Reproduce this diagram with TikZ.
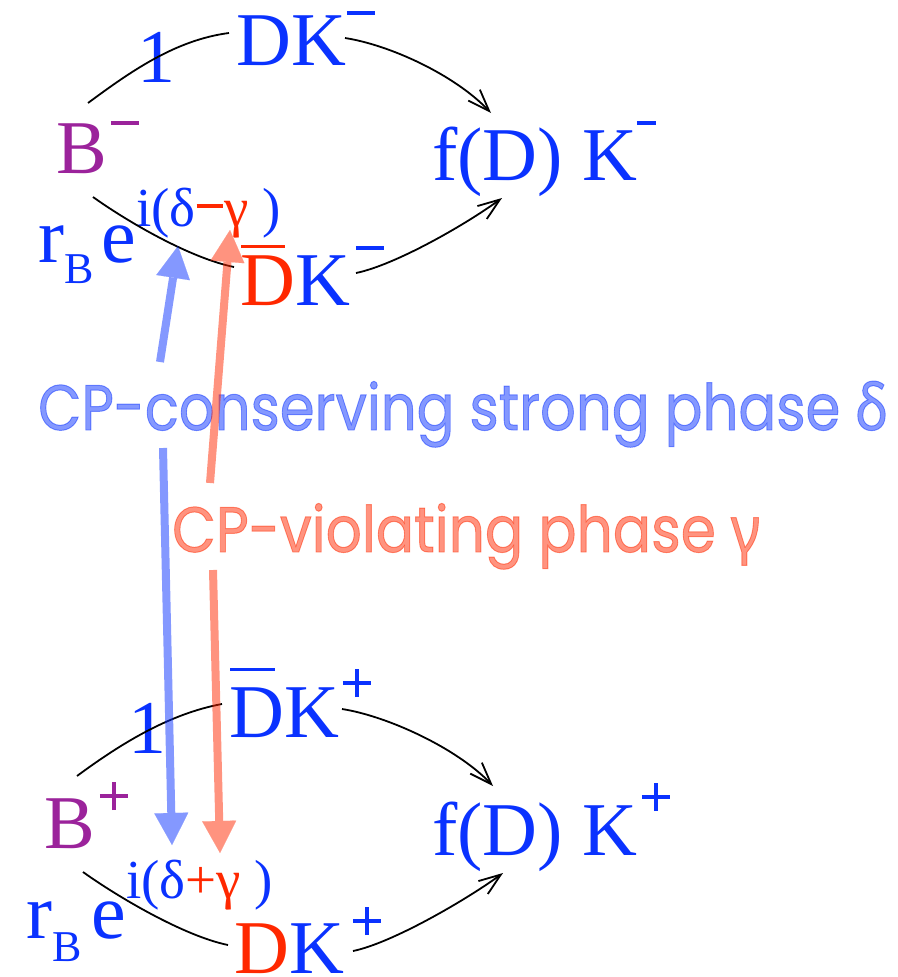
\documentclass[tikz,border=0pt]{standalone}
\usepackage{fontspec}
\usepackage{graphicx}
\setmainfont{Liberation Serif}
\newfontfamily\labfont[FakeBold=1.5]{Poppins}
\newfontfamily\grkfont[FakeBold=1.5]{Noto Sans}
\usetikzlibrary{arrows.meta,calc}
\definecolor{mblue}{RGB}{10,50,255}
\definecolor{mred}{RGB}{255,40,0}
\definecolor{mpurple}{RGB}{155,35,155}
% superscript minus: gap, raise, width
\newcommand\mminus[3]{\hspace{#1pt}\raisebox{#2pt}{\rule{#3pt}{4pt}}}
% superscript plus: gap, raise (of bar bottom)
\newcommand\mplus[2]{\hspace{#1pt}\rlap{\raisebox{#2pt}{\rule{28pt}{4pt}}}\hspace{12pt}\raisebox{\dimexpr#2pt-12pt\relax}{\rule{4pt}{28pt}}\hspace{12pt}}
\newcommand\dbar[2]{\rlap{\hspace{1pt}\raisebox{#1pt}{\rule{#2pt}{3.5pt}}}}
\begin{document}
\begin{tikzpicture}[x=1pt,y=-1pt,
  lbl/.style={inner sep=0pt, anchor=base west, font=\fontsize{76}{76}\selectfont, text=mblue},
  link/.style={line width=1.8pt},
  conn/.style={link, -{Straight Barb[length=22pt,width=16pt,line width=1.8pt]}},
  fat/.style={line width=8pt, -{Triangle[length=32pt,width=34pt,line width=0.1pt]}},
  capt/.style={inner sep=0pt, anchor=base west, text opacity=0.5, font=\labfont\fontsize{64}{64}\selectfont}]
\useasboundingbox (0,0) rectangle (897,977);
% top group
\node[lbl] (DKm) at (236,65) {DK\mminus{1}{50}{28}};
\node[lbl, anchor=base] (one1) at (156,82) {1};
\node[lbl, text=mpurple] (Bm) at (56,173) {B\mminus{4}{48}{28}};
\node[lbl] (fDKm) at (432,180) {f(D) K\mminus{0}{55}{19}};
\node[lbl] (rBm) at (38,262) {\fontsize{78}{78}\selectfont r\raisebox{-21pt}{\fontsize{44}{44}\selectfont B}\hspace{8pt}e\raisebox{36pt}{\fontsize{55}{55}\selectfont i(δ\textcolor{mred}{\mminus{1}{18}{26}\hspace{2pt}γ} )}};
\node[lbl] (Dbm) at (240,305) {\textcolor{mred}{\dbar{57}{44}D}K\mminus{6}{55}{28}};
% bottom group
\node[lbl] (DbKp) at (229,737) {\dbar{66}{45}DK\mplus{4}{52}};
\node[lbl, anchor=base] (one2) at (147,753) {1};
\node[lbl, text=mpurple] (Bp) at (44,848) {B\mplus{5}{50}};
\node[lbl] (fDKp) at (432,855) {f(D) K\mplus{5}{56}};
\node[lbl] (rBp) at (26,938) {\fontsize{78}{78}\selectfont r\raisebox{-23pt}{\fontsize{44}{44}\selectfont B}\hspace{10pt}e\raisebox{40pt}{\fontsize{55}{55}\selectfont i(δ\textcolor{mred}{+γ} )}};
\node[lbl] (DKp) at (234,973) {\textcolor{mred}{D}K\mplus{9}{50}};
% connectors top
\draw[link] ($(Bm.base west)+(32,-70)$) .. controls +(42,-31) and +(-54,7) .. ($(DKm.base west)+(-7,-32)$);
\draw[conn] ($(DKm.base west)+(109,-27)$) .. controls +(45,7) and +(-36,-38) .. ($(fDKm.base west)+(59,-67)$);
\draw[link] ($(Bm.base west)+(37,24)$) .. controls +(35,25) and +(-44,-9) .. ($(Dbm.base west)+(-6,-38)$);
\draw[conn] ($(Dbm.base west)+(116,-32)$) .. controls +(39,-8) and +(-37,27) .. ($(fDKm.base west)+(70,18)$);
% connectors bottom
\draw[link] ($(Bp.base west)+(33,-72)$) .. controls +(42,-31) and +(-54,10) .. ($(DbKp.base west)+(-7,-33)$);
\draw[conn] ($(DbKp.base west)+(113,-28)$) .. controls +(45,7) and +(-36,-38) .. ($(fDKp.base west)+(61,-69)$);
\draw[link] ($(Bp.base west)+(39,24)$) .. controls +(35,25) and +(-44,-9) .. ($(DKp.base west)+(-6,-28)$);
\draw[conn] ($(DKp.base west)+(119,-22)$) .. controls +(39,-8) and +(-37,27) .. ($(fDKp.base west)+(71,18)$);
% captions
\node[capt, text=mblue] (capb) at (38,430) {\resizebox{850pt}{\height}{CP-conserving strong phase {\grkfont δ}}};
\node[capt, text=mred] (capr) at (172,552) {\resizebox{588pt}{\height}{CP-violating phase {\grkfont γ}}};
% phase arrows
\begin{scope}[transparency group, opacity=0.5]
\draw[fat, mblue] ($(capb.base west)+(122,-68)$) -- ($(rBm.base west)+(140,-16)$);
\end{scope}
\begin{scope}[transparency group, opacity=0.5]
\draw[fat, mblue] ($(capb.base west)+(125,18)$) -- ($(rBp.base west)+(146,-93)$);
\end{scope}
\begin{scope}[transparency group, opacity=0.5]
\draw[fat, mred] ($(capr.base west)+(38,-69)$) -- ($(rBm.base west)+(192,-32)$);
\end{scope}
\begin{scope}[transparency group, opacity=0.5]
\draw[fat, mred] ($(capr.base west)+(41,18)$) -- ($(rBp.base west)+(194,-85)$);
\end{scope}
\end{tikzpicture}
\end{document}
